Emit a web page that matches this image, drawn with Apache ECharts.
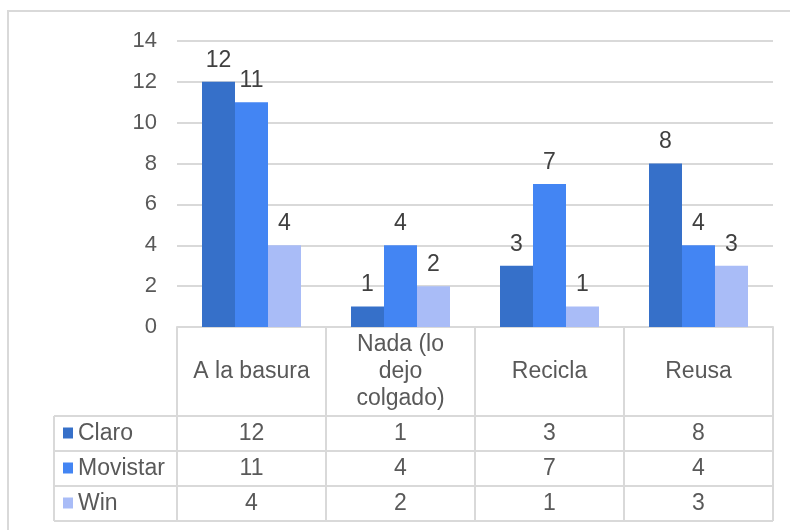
<!DOCTYPE html>
<html>
<head>
<meta charset="utf-8">
<script src="https://cdn.jsdelivr.net/npm/echarts@6/dist/echarts.min.js"></script>
<style>
  html, body { margin: 0; padding: 0; background: #fff; }
  #main { width: 790px; height: 530px; }
</style>
</head>
<body>
<div id="main"></div>
<script>
// datos
const categories = ['A la basura', 'Nada (lo\ndejo\ncolgado)', 'Recicla', 'Reusa']
const seriesNames = ['Claro', 'Movistar', 'Win']
const claro = [12, 1, 3, 8]
const movistar = [11, 4, 7, 4]
const win = [4, 2, 1, 3]
const yTicks = [0, 2, 4, 6, 8, 10, 12, 14]

const colors = ['#3670C9', '#4385F3', '#A9BCF7']
const values = [claro, movistar, win]

const GRID_LEFT = 177
const GRID_RIGHT = 17
const GRID_TOP = 41
const GRID_BOTTOM = 203
const HEADER_H = 89
const ROW_H = 35
const TABLE_LEFT = 54
const FONT = 'Liberation Sans, Arial, sans-serif'
const lineColor = '#d9d9d9'
const textColor = '#595959'

let myChart = echarts.init(document.getElementById('main'))

const option = {
  animation: false,
  textStyle: { fontFamily: FONT },
  grid: {
    left: GRID_LEFT,
    right: GRID_RIGHT,
    top: GRID_TOP,
    bottom: GRID_BOTTOM,
  },
  xAxis: {
    type: 'category',
    data: categories,
    axisLine: { show: true, lineStyle: { color: lineColor, width: 2 } },
    axisTick: {
      show: true,
      length: HEADER_H + ROW_H * 3,
      lineStyle: { color: lineColor, width: 2 },
    },
    axisLabel: {
      fontSize: 23,
      color: textColor,
      lineHeight: 27,
      margin: HEADER_H / 2,
      verticalAlign: 'middle',
      interval: 0,
    },
  },
  yAxis: {
    type: 'value',
    min: yTicks[0],
    max: yTicks[yTicks.length - 1],
    interval: 2,
    axisLine: { show: false },
    axisTick: { show: false },
    axisLabel: { fontSize: 22, color: textColor, margin: 20 },
    splitLine: { lineStyle: { color: lineColor, width: 2 } },
  },
  series: seriesNames.map((name, i) => ({
    name: name,
    type: 'bar',
    barWidth: 33,
    barGap: '0%',
    itemStyle: { color: colors[i] },
    label: {
      show: true,
      position: 'top',
      distance: 10,
      fontSize: 23,
      color: '#404040',
    },
    data: values[i],
  })),
}
myChart.setOption(option)

// tabla de datos debajo del eje
function drawTable() {
  const zeroY = myChart.convertToPixel({ yAxisIndex: 0 }, 0)
  const right = 790 - GRID_RIGHT
  const top = zeroY + HEADER_H
  const els = []

  // marco exterior
  els.push({
    type: 'rect',
    shape: { x: 8, y: 11, width: 900, height: 700 },
    style: { fill: 'none', stroke: lineColor, lineWidth: 2 },
    silent: true,
  })

  for (let r = 0; r <= seriesNames.length; r++) {
    const y = top + r * ROW_H
    els.push({
      type: 'line',
      shape: { x1: TABLE_LEFT, y1: y, x2: right, y2: y },
      style: { stroke: lineColor, lineWidth: 2 },
    })
  }
  els.push({
    type: 'line',
    shape: { x1: TABLE_LEFT, y1: top, x2: TABLE_LEFT, y2: top + ROW_H * seriesNames.length },
    style: { stroke: lineColor, lineWidth: 2 },
  })

  seriesNames.forEach((name, r) => {
    const cy = top + r * ROW_H + ROW_H / 2
    els.push({
      type: 'rect',
      shape: { x: 63, y: cy - 6, width: 10, height: 11 },
      style: { fill: colors[r] },
    })
    els.push({
      type: 'text',
      x: 78,
      y: cy,
      style: {
        text: name,
        font: '23px ' + FONT,
        fill: textColor,
        verticalAlign: 'middle',
      },
    })
    values[r].forEach((v, c) => {
      const cx = myChart.convertToPixel({ xAxisIndex: 0 }, c)
      els.push({
        type: 'text',
        x: cx,
        y: cy,
        style: {
          text: String(v),
          font: '23px ' + FONT,
          fill: textColor,
          align: 'center',
          verticalAlign: 'middle',
        },
      })
    })
  })

  myChart.setOption({ graphic: els })
}
drawTable()
</script>
</body>
</html>
